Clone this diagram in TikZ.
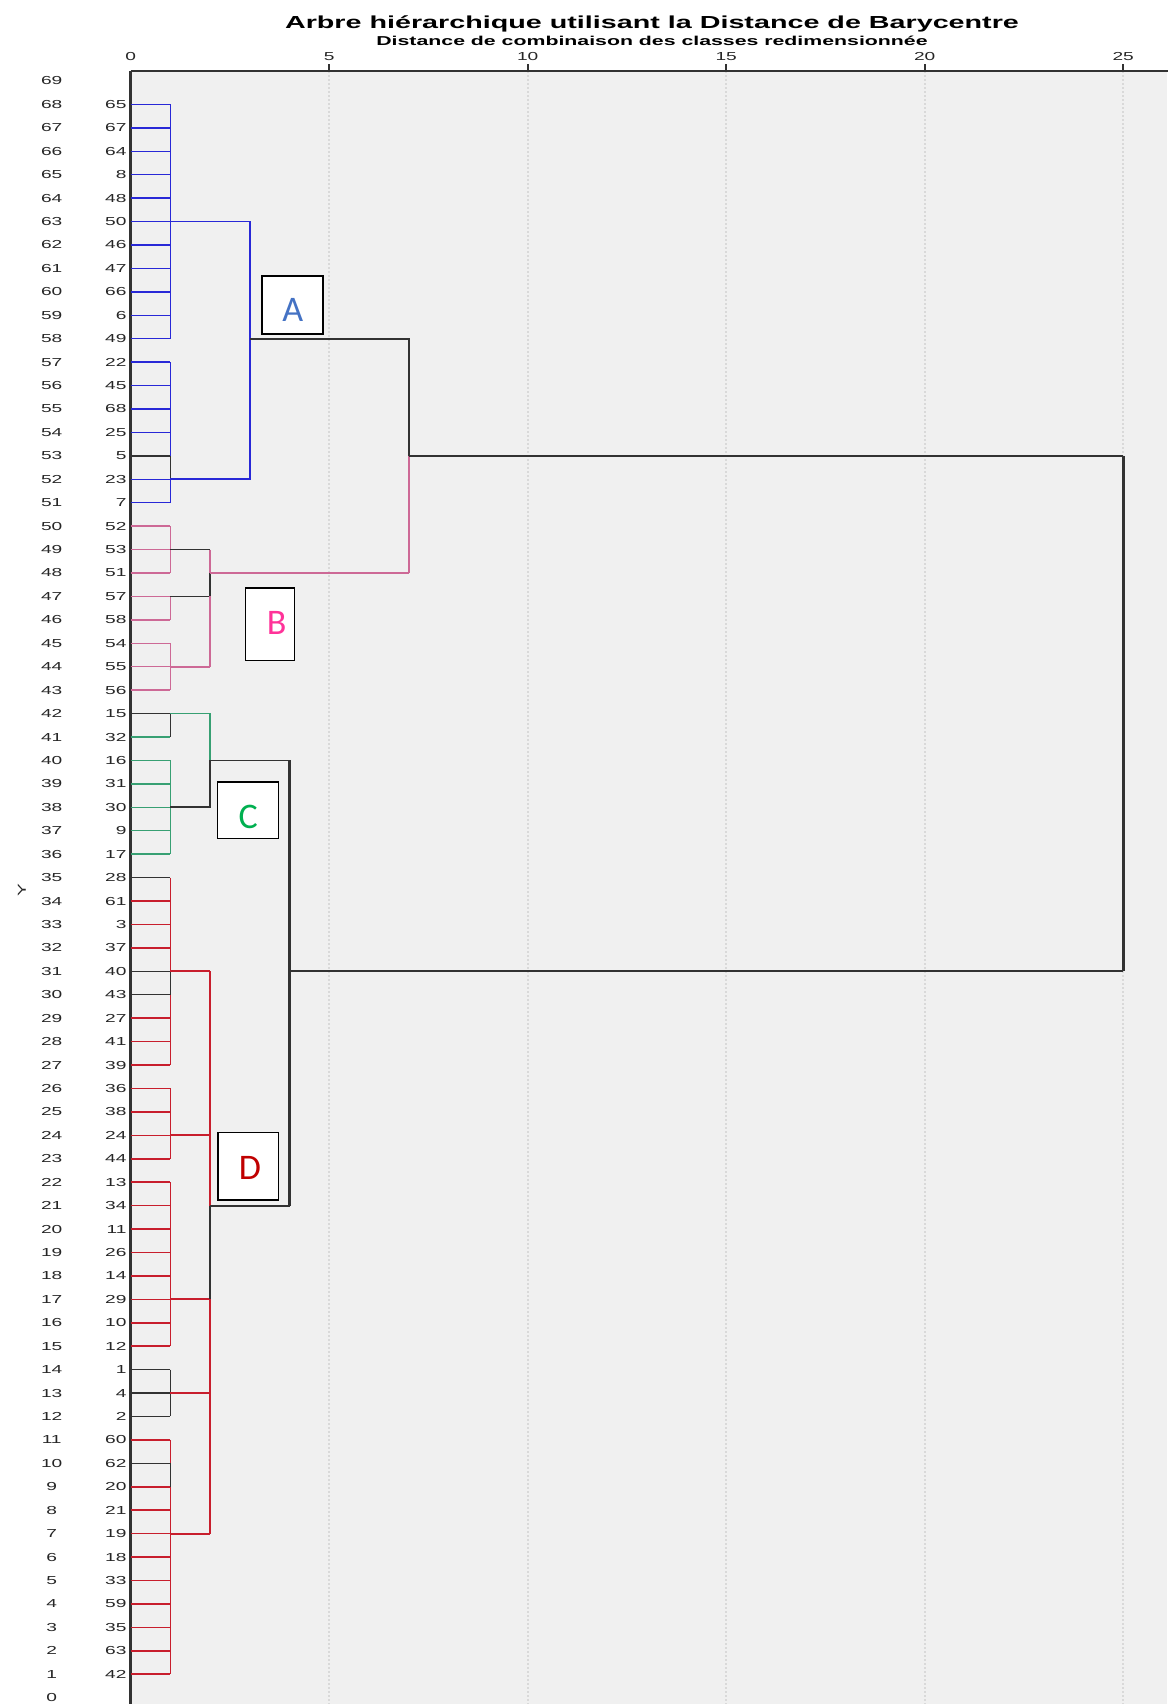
\documentclass[tikz,border=0pt]{standalone}
\usepackage{fontspec}
\setmainfont{Liberation Sans}[FakeStretch=1.65]
\newfontfamily\boxfont{Carlito}
\definecolor{cblue}{RGB}{40,40,215}
\definecolor{cpink}{RGB}{205,105,150}
\definecolor{cgreen}{RGB}{55,160,115}
\definecolor{cred}{RGB}{200,30,45}
\definecolor{cdark}{RGB}{50,50,50}
\definecolor{plotbg}{RGB}{240,240,240}
\definecolor{lblue}{RGB}{68,114,196}
\definecolor{lpink}{RGB}{255,51,153}
\definecolor{lgreen}{RGB}{0,176,80}
\definecolor{lred}{RGB}{192,0,0}
\tikzset{
  rowlab/.style={font=\fontsize{11.6}{13}\selectfont, text=black!85, inner sep=0pt},
  caselab/.style={rowlab, anchor=east},
  ticklab/.style={rowlab, anchor=base},
  leaf/.style={line width=1.5pt},
  link/.style={line width=1.8pt},
  thicklink/.style={line width=3pt},
  lettbox/.style={draw=black, fill=white, line width=1.2pt, inner sep=0pt},
  lett/.style={font=\boxfont\fontsize{36}{40}\selectfont, inner sep=0pt},
  gridline/.style={gray!30, line width=1.8pt, dash pattern=on 1.5pt off 2.5pt},
}
\begin{document}
\begin{tikzpicture}[x=1pt,y=1pt]
\useasboundingbox (0,0) rectangle (1167,1704);
\fill[white] (0,0) rectangle (1167,1704);
\fill[plotbg] (130.7,0) rectangle (1167,1633.4);
% titles
\node[font=\bfseries\fontsize{17.4}{20}\selectfont, anchor=base, inner sep=0pt] (title) at (652,1675.7) {Arbre hiérarchique utilisant la Distance de Barycentre};
\node[font=\bfseries\fontsize{12.9}{15}\selectfont, anchor=base, inner sep=0pt] (subtitle) at (652,1658.3) {Distance de combinaison des classes redimensionnée};
\node[rowlab, rotate=90] (ylab) at (22,814) {Y};
\begin{scope}[x=39.7pt, y=23.43pt, shift={(130.7pt,6.34pt)}]
  % grid
  \foreach \d in {5,10,15,20,25} {
    \draw[gridline] (\d,-0.3) -- (\d,69.44);
    \draw[cdark, line width=1.8pt] (\d,69.44) -- (\d,69.72);
    \node[ticklab] (tick\d) at (\d,69.86) {\d};
  }
  \node[ticklab] (tick0) at (0,69.86) {0};
  % axes
  \draw[cdark, line width=1.8pt] (0,69.44) -- (26.2,69.44);
  \draw[cdark, line width=3pt] (0,-0.3) -- (0,69.44);
  % row numbers
  \foreach \r in {0,...,69} \node[rowlab] (row\r) at (-1.99,\r) {\r};
  % leaves
  \foreach \r/\c/\col in {68/65/cblue, 67/67/cblue, 66/64/cblue, 65/8/cblue, 64/48/cblue, 63/50/cblue, 62/46/cblue, 61/47/cblue, 60/66/cblue, 59/6/cblue, 58/49/cblue, 57/22/cblue, 56/45/cblue, 55/68/cblue, 54/25/cblue, 53/5/cdark, 52/23/cblue, 51/7/cblue, 50/52/cpink, 49/53/cpink, 48/51/cpink, 47/57/cpink, 46/58/cpink, 45/54/cpink, 44/55/cpink, 43/56/cpink, 42/15/cdark, 41/32/cgreen, 40/16/cgreen, 39/31/cgreen, 38/30/cgreen, 37/9/cgreen, 36/17/cgreen, 35/28/cdark, 34/61/cred, 33/3/cred, 32/37/cred, 31/40/cdark, 30/43/cdark, 29/27/cred, 28/41/cred, 27/39/cred, 26/36/cred, 25/38/cred, 24/24/cred, 23/44/cred, 22/13/cred, 21/34/cred, 20/11/cred, 19/26/cred, 18/14/cred, 17/29/cred, 16/10/cred, 15/12/cred, 14/1/cdark, 13/4/cdark, 12/2/cdark, 11/60/cred, 10/62/cdark, 9/20/cred, 8/21/cred, 7/19/cred, 6/18/cred, 5/33/cred, 4/59/cred, 3/35/cred, 2/63/cred, 1/42/cred} {
    \node[caselab] (lab\r) at (-0.1,\r) {\c};
    \coordinate (n\r) at (0,\r);
    \coordinate (m\r) at (1,\r);
    \draw[leaf,\col] (n\r) -- (m\r);
  }
  % first-level verticals
  \draw[link,cblue] (m68) -- (m58);
  \draw[link,cblue] (m57) -- (m51);
  \draw[link,cdark] (m53) -- (m52);
  \draw[link,cpink] (m50) -- (m48);
  \draw[link,cpink] (m47) -- (m46);
  \draw[link,cpink] (m45) -- (m43);
  \draw[link,cdark] (m42) -- (m41);
  \draw[link,cgreen] (m40) -- (m36);
  \draw[link,cred] (m35) -- (m27);
  \draw[link,cdark] (m31) -- (m30);
  \draw[link,cred] (m26) -- (m23);
  \draw[link,cred] (m22) -- (m15);
  \draw[link,cdark] (m14) -- (m12);
  \draw[link,cred] (m11) -- (m1);
  \draw[link,cdark] (m10) -- (m9);
  % cluster A
  \coordinate (a63) at (3,63); \coordinate (a52) at (3,52); \coordinate (a58) at (3,58);
  \coordinate (t58) at (7,58); \coordinate (t53) at (7,53); \coordinate (t48) at (7,48);
  \draw[link,cblue] (m63) -- (a63) -- (a52) -- (m52);
  \draw[link,cdark] (a58) -- (t58) -- (t53);
  \draw[link,cpink] (t53) -- (t48);
  % cluster B
  \coordinate (b49) at (2,49); \coordinate (b48) at (2,48); \coordinate (b47) at (2,47); \coordinate (b44) at (2,44);
  \draw[link,cdark] (m49) -- (b49);
  \draw[link,cdark] (m47) -- (b47);
  \draw[link,cpink] (m44) -- (b44);
  \draw[link,cpink] (b49) -- (b48);
  \draw[link,cdark] (b48) -- (b47);
  \draw[link,cpink] (b47) -- (b44);
  \draw[link,cpink] (b48) -- (t48);
  % cluster C
  \coordinate (c42) at (2,42); \coordinate (c40) at (2,40); \coordinate (c38) at (2,38);
  \coordinate (k40) at (4,40); \coordinate (k31) at (4,31); \coordinate (k21) at (4,21);
  \draw[link,cgreen] (m42) -- (c42) -- (c40);
  \draw[link,cdark] (m38) -- (c38) -- (c40) -- (k40);
  % cluster D
  \coordinate (d31) at (2,31); \coordinate (d24) at (2,24); \coordinate (d21) at (2,21);
  \coordinate (d17) at (2,17); \coordinate (d13) at (2,13); \coordinate (d7) at (2,7);
  \draw[link,cred] (m31) -- (d31);
  \draw[link,cred] (m24) -- (d24);
  \draw[link,cred] (m17) -- (d17);
  \draw[link,cred] (m13) -- (d13);
  \draw[link,cred] (m7) -- (d7);
  \draw[link,cred] (d31) -- (d21);
  \draw[link,cdark] (d21) -- (d17);
  \draw[link,cred] (d17) -- (d7);
  \draw[link,cdark] (d21) -- (k21);
  % top joins
  \coordinate (r53) at (25,53); \coordinate (r31) at (25,31);
  \draw[thicklink,cdark] (k40) -- (k21);
  \draw[link,cdark] (k31) -- (r31);
  \draw[link,cdark] (t53) -- (r53);
  \draw[thicklink,cdark] (r53) -- (r31);
\end{scope}
% labelled boxes
\node[lettbox, minimum width=61pt, minimum height=58pt] (boxA) at (292.5,1399) {};
\node[lett, text=lblue] (letA) at (292.7,1394) {A};
\node[lettbox, minimum width=48.6pt, minimum height=72.3pt] (boxB) at (270,1079.9) {};
\node[lett, text=lpink] (letB) at (276.7,1080.7) {B};
\node[lettbox, minimum width=60.6pt, minimum height=56.3pt] (boxC) at (248,893.9) {};
\node[lett, text=lgreen] (letC) at (248.3,887.3) {C};
\node[lettbox, minimum width=60.7pt, minimum height=67.7pt] (boxD) at (248.3,537.9) {};
\node[lett, text=lred] (letD) at (250,536.5) {D};
\end{tikzpicture}
\end{document}
